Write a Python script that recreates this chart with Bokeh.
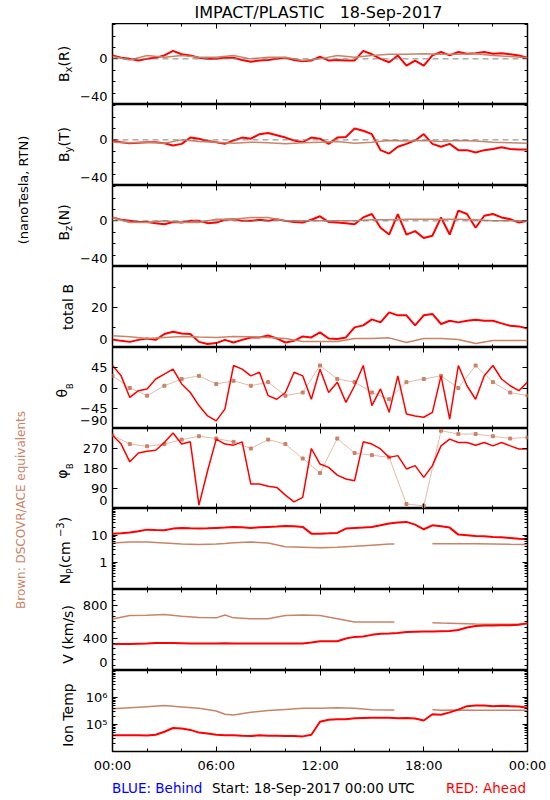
import math
import numpy as np
from bokeh.plotting import figure
from bokeh.layouts import row, column
from bokeh.models import Range1d, LinearAxis, LogAxis, LogScale, FixedTicker, Label, Span
from bokeh.embed import file_html
from bokeh.resources import INLINE

# ---------------------------------------------------------------- data
TITLE = "IMPACT/PLASTIC\u00a0\u00a0\u00a018-Sep-2017"
FOOT_LEFT = "BLUE: Behind"
FOOT_MID = "Start: 18-Sep-2017 00:00 UTC"
FOOT_RIGHT = "RED: Ahead"
SIDE_UNITS = "(nanoTesla, RTN)"
SIDE_BROWN = "Brown: DSCOVR/ACE equivalents"

# time (hours) of the STEREO-A (red) samples
T_RED = [0.0, 0.5, 1.0, 1.5, 2.0, 2.5, 3.0, 3.5, 4.0, 4.5, 5.0, 5.5, 6.0, 6.5, 7.0, 7.5,
         8.0, 8.5, 9.0, 9.5, 10.0, 10.5, 11.0, 11.5, 12.0, 12.5, 13.0, 13.5, 14.0, 14.5,
         15.0, 15.5, 16.0, 16.5, 17.0, 17.5, 18.0, 18.5, 19.0, 19.5, 20.0, 20.5, 21.0,
         21.5, 22.0, 22.5, 23.0, 23.5, 24.0]
# time (hours) of the DSCOVR/ACE (brown) magnetic samples
T_BROWN = [0, 1, 2, 3, 4, 5, 6, 7, 8, 9, 10, 11, 12, 13, 14, 15, 16, 17, 18, 19, 20, 21, 22, 23, 24]
# time (hours) of the DSCOVR/ACE (brown) plasma samples (gap 16.3 - 18.5)
T_BROWN_PL = [0, 1, 2, 3, 4, 5, 6, 6.5, 7, 8, 9, 10, 11, 12, 13, 14, 15, 16, 16.3, 17,
              18.5, 19, 20, 21, 22, 23, 24]

NAN = float("nan")

BX_RED = [3, 1, 0, -1.5, 0, 1, 3, 7, 4, 3, 1, 0, 0, 1, 1, -1, -2.5, -1.5, -1, 0,
          1, -1, -2, -1.5, 2, -1.5, -1, -1.5, -1.5, 7, 4, 0, -3, 3, -6, -1.5, -6, 3, 6, 3,
          6, 4.5, 5, 6, 4.5, 5, 4, 3, 1]
BX_BROWN = [2, -1, 3, 1.5, 3, 1.5, 1.5, 3, 0, 1.5, 1.5, -1.5, 0, 3, 1.5, 3, 4, 4, 4.5, 4,
            4, 4.5, 3, 2, 1]

BY_RED = [-0.5, -2, -3, -2.5, -2, -2, -3, -5, -3.5, 2, 1, -1, -2, -3.5, -0.5, 2, 1, 5, 6, 4,
          2, -0.5, -2, 2, 1, -3.5, 2, 2.5, 10, 8, 5, -9, -12, -6, -3.5, -0.5, 5, -3.5, -6, -3.5,
          -9, -9, -11, -9, -8, -6.5, -8, -8.5, -8.5]
BY_BROWN = [-2, -2.5, -2, -3, 0, -1.5, -2, -3, -2, -2.5, -3.5, -2.5, -2, -1.5, -3, -2, -0.5,
            -1, -0.5, -1.5, -0.5, -1, -2, -2.5, -3]

BZ_RED = [3, 1, 0, -1, -1, -2, -3, -1, -1.5, 0, 0, -2, -1.5, 1, 1.5, 0, 0, 1, 0, 1.5,
          0, -1, -1.5, 1, 4, -1, -1.5, -2, -3, 3, 6, -6, -12, 6, -12, -9, -15, -13, 3, -12,
          9, 6, -6, 4.5, 6, 3, 1.5, -1.5, 0]
BZ_BROWN = [3, -1.5, -1.5, 0, -1.5, -1.5, 1.5, 1.5, 3, 3, 0, 0, 0, 0, 0, 1, 1, 1.5, 1.5, 1.5,
            1.5, 1, 0, 0, 0]

BT_RED = [4, 3.3, 2.8, 3.8, 4.5, 3.8, 6.7, 7.8, 7, 6.7, 2.8, 1.7, 2.2, 3.8, 2.5, 3.8, 5, 5, 6, 4.5,
          2.5, 3.3, 5.5, 5, 7.5, 4.5, 4.2, 5, 10, 11, 14, 12.5, 17.5, 16, 16, 11, 16, 16.7, 11.7,
          13.3, 12.5, 13.3, 13.8, 13.3, 13.3, 12, 10.8, 10.5, 9.5]
BT_BROWN = [5.8, 5.3, 4.5, 5, 5.5, 5.2, 5, 5.5, 5.3, 5, 4.5, 3, 3, 3, 4.5, 4.5, 4.8, 2.5, 4.5,
            4.5, 4, 2, 3.5, 3.5, 3.5]

THETA_RED = [50, 27, -21, -6, -2, 20, 31, 42, 9, -10, -39, -62, -73, -47, 50, 42, 27, 35, -17, -25,
             -10, 35, 27, -25, 42, -10, 13, -32, 5, 50, -39, -2, -54, 27, -58, -62, -65, -54, 27,
             -69, 50, 5, -25, 27, 50, 20, 5, -6, 13]
THETA_BROWN = [27, 0, -17, 5, 20, 27, 9, 16, 5, 13, -17, -10, 50, 20, 13, -10, -25, 13, 20, 27,
               0, 50, 13, -10, -17]

PHI_RED = [330, 290, 210, 250, 258, 262, 297, 340, 290, 300, 15, 170, 312, 290, 285, 300, 110,
           110, 100, 95, 60, 30, 50, 270, 200, 185, 150, 133, 125, 300, 290, 268, 230, 238, 178,
           193, 140, 193, 282, 312, 297, 297, 285, 297, 282, 297, 282, 268, 268]
PHI_BROWN = [330, 290, 280, 290, 310, 325, 315, 300, 270, 310, 290, 225, 160, 315, 250, 240, 230,
             20, 12, 350, 335, 335, 325, 315, 320]

NP_RED = [11.7, 12.0, 12.8, 14.3, 16.5, 16.0, 15.6, 18.0, 19.1, 18.5, 18.0, 18.5, 19.1, 19.6,
          20.8, 20.2, 19.1, 20.2, 20.8, 21.4, 22.6, 22.0, 20.8, 11.7, 11.7, 12.0, 12.4, 18.0,
          19.1, 19.6, 20.8, 23.9, 27.6, 30.1, 31.9, 25.3, 17.0, 23.9, 22.0, 19.6, 10.8, 10.2,
          9.6, 9.3, 8.8, 8.6, 8.1, 7.6, 7.2]
NP_BROWN = [5.3, 5.75, 5.75, 5.3, 4.85, 4.6, 4.85, 5.1, 5.4, 5.75, 5.3, 3.8, 3.7, 3.5, 3.7, 4.0,
            4.4, 4.8, 4.85, NAN, 5.0, 5.0, 5.0, 5.0, 4.85, 4.7, 4.6]

V_RED = [328, 328, 328, 330, 332, 338, 340, 338, 336, 333, 333, 333, 333, 335, 333, 333, 333,
         333, 333, 333, 333, 333, 333, 345, 360, 360, 362, 395, 415, 420, 440, 455, 458, 462,
         475, 478, 480, 482, 485, 488, 500, 530, 550, 555, 555, 558, 560, 565, 585]
V_BROWN = [636, 678, 682, 690, 670, 655, 650, 686, 650, 640, 640, 680, 685, 680, 640, 600, 600,
           600, 600, NAN, 590, 585, 580, 575, 572, 572, 575]

TEMP_RED = [39800, 39800, 39800, 39800, 38900, 41700, 53700, 74100, 70800, 63100,
            50100, 46800, 41700, 39800, 39800, 38000, 37200, 39800, 38000, 38000,
            37200, 37200, 36300, 41700, 126000, 151000, 158000, 158000, 170000, 174000,
            178000, 178000, 178000, 170000, 174000, 166000, 141000, 240000, 229000, 282000,
            355000, 479000, 501000, 501000, 479000, 490000, 479000, 468000, 417000]
TEMP_BROWN = [380000, 417000, 457000, 501000, 447000, 398000, 316000, 240000, 224000, 282000,
              331000, 363000, 398000, 398000, 417000, 398000, 355000, 347000, 347000, NAN,
              355000, 339000, 347000, 339000, 339000, 339000, 339000]

# ticks and tick labels
X_TICKS = [0, 6, 12, 18, 24]
X_MINOR = [2, 4, 8, 10, 14, 16, 20, 22]
X_TICK_LABELS = ["00:00", "06:00", "12:00", "18:00", "00:00"]

B_TICKS = [0]
B_TICK_LABELS = ["0"]
B_MINOR = [-30, -20, -10, 10, 20, 30]
B_EDGE = "\u221240"

BT_TICKS = [20]
BT_TICK_LABELS = ["20"]
BT_MINOR = [10, 30]
BT_EDGE = "0"

TH_TICKS = [-45, 0, 45]
TH_TICK_LABELS = ["\u221245", "0", "45"]
TH_EDGE = "\u221290"

PH_TICKS = [90, 180, 270]
PH_TICK_LABELS = ["90", "180", "270"]
PH_EDGE = "0"

NP_TICKS = [1, 10]
NP_TICK_LABELS = ["1", "10"]
NP_MINOR = [0.2, 0.3, 0.4, 0.5, 0.6, 0.7, 0.8, 0.9, 2, 3, 4, 5, 6, 7, 8, 9,
            20, 30, 40, 50, 60, 70, 80, 90]

V_TICKS = [400, 800]
V_TICK_LABELS = ["400", "800"]
V_MINOR = [66.7, 133.3, 200, 266.7, 333.3, 466.7, 533.3, 600, 666.7, 733.3, 866.7, 933.3]
V_EDGE = "0"

T_TICKS = [1e5, 1e6]
T_TICK_LABELS = ["10\u2075", "10\u2076"]
T_MINOR = [2e4, 3e4, 4e4, 5e4, 6e4, 7e4, 8e4, 9e4, 2e5, 3e5, 4e5, 5e5, 6e5, 7e5, 8e5, 9e5,
           2e6, 3e6, 4e6, 5e6, 6e6, 7e6, 8e6, 9e6]

# ---------------------------------------------------------------- style / layout
FONT = "DejaVu Sans"
RED = "#ff0000"
BROWN = "#c98467"
BLUE = "#0000ff"

PAGE_W = 550
HEAD_H = 23
SIDE_W = 77
FRAME_L = 111.0
FRAME_W = 415
TOPS = [23, 104, 185, 266, 347, 428, 508, 589, 670]
HS = [81, 81, 81, 81, 81, 80, 81, 81, 81]
XLAB_H = 20
FOOT_H = 28
BODY_BOTTOM = TOPS[-1] + HS[-1] + XLAB_H          # page y where the panel block ends
BODY_H = BODY_BOTTOM - HEAD_H
RANGES = [(-40, 31, False), (-40, 31, False), (-40, 31, False), (0, 40.3, False),
          (-90, 90, False), (0, 360, False), (0.1, 100, True), (0, 1000, False),
          (1e4, 1e7, True)]
EDGE_LIFT = 8   # px: the bottom tick label sits just above the frame edge

W_EM = {"B": .686, "x": .592, "(": .390, ")": .390, "R": .695, "y": .592, "T": .611,
        "z": .525, "N": .748, "t": .392, "o": .612, "a": .613, "l": .278, " ": .318,
        "\u03b8": .602, "\u03c6": .75, "P": .603, "c": .550, "m": .974, "\u2212": .838,
        "3": .636, "V": .684, "k": .579, "/": .337, "s": .521, "I": .295, "n": .634,
        "e": .615, "p": .635}


def text_w(s, size):
    return sum(W_EM.get(c, 0.6) for c in s) * size


def yd(i, py):
    """data value of panel i found at page row py"""
    lo, hi, log = RANGES[i]
    f = (TOPS[i] + HS[i] - py) / HS[i]
    if log:
        return 10 ** (math.log10(lo) + f * (math.log10(hi) - math.log10(lo)))
    return lo + f * (hi - lo)


def tick_axis(cls, positions, length):
    """An axis that only draws inward tick marks (no labels, zero thickness)."""
    return cls(ticker=FixedTicker(ticks=[], minor_ticks=positions), axis_line_color=None,
               major_tick_in=0, major_tick_out=0, minor_tick_in=length, minor_tick_out=0,
               minor_tick_line_color="black", minor_tick_line_width=1)


def strip(w, h):
    f = figure(frame_width=w, frame_height=h, x_range=Range1d(0, w), y_range=Range1d(0, h),
               x_axis_location=None, y_axis_location=None, output_backend="svg",
               toolbar_location=None, min_border_left=0, min_border_right=0, min_border_top=0,
               min_border_bottom=0, outline_line_color=None, border_fill_color="white",
               background_fill_color="white")
    f.xgrid.visible = False
    f.ygrid.visible = False
    return f


def make_panel(i):
    lo, hi, log = RANGES[i]
    p = figure(frame_width=FRAME_W, frame_height=HS[i], x_range=Range1d(0, 24),
               y_range=Range1d(lo, hi), y_axis_type="log" if log else "linear",
               x_axis_location=None, y_axis_location=None,
               output_backend="svg", toolbar_location=None,
               min_border_left=int(FRAME_L) - SIDE_W,
               min_border_right=PAGE_W - int(FRAME_L) - FRAME_W,
               min_border_top=0, min_border_bottom=XLAB_H if i == 8 else 0,
               outline_line_color="black", outline_line_width=1.5,
               background_fill_color="white", border_fill_color="white")
    if log:
        p.y_scale = LogScale()
    p.xgrid.visible = False
    p.ygrid.visible = False
    for loc in ("above", "below"):
        p.add_layout(tick_axis(LinearAxis, X_MINOR, 3), loc)
        p.add_layout(tick_axis(LinearAxis, X_TICKS, 5), loc)
    if i == 8:
        ax = LinearAxis(ticker=FixedTicker(ticks=X_TICKS, minor_ticks=[]),
                        axis_line_color=None, major_tick_in=0, major_tick_out=0,
                        minor_tick_in=0, minor_tick_out=0)
        ax.major_label_overrides = {t: s for t, s in zip(X_TICKS, X_TICK_LABELS)}
        ax.major_label_text_font = FONT
        ax.major_label_text_font_size = "13px"
        ax.major_label_text_color = "black"
        ax.major_label_standoff = 6
        p.add_layout(ax, "below")
    return p


def add_y_axes(p, i, ticks, labels, minor, edge):
    lo, hi, log = RANGES[i]
    Ax = LogAxis if log else LinearAxis
    # tick marks (left and right, inward)
    for loc in ("left", "right"):
        p.add_layout(tick_axis(Ax, minor, 3), loc)
        p.add_layout(tick_axis(Ax, ticks, 5), loc)
    # labels; the label of the bottom tick sits just above the frame edge
    lab_pos = list(ticks)
    lab_txt = list(labels)
    if edge:
        lab_pos.append(yd(i, TOPS[i] + HS[i] - EDGE_LIFT))
        lab_txt.append(edge)
    ax = Ax(ticker=FixedTicker(ticks=lab_pos, minor_ticks=[]), axis_line_color=None,
            major_tick_in=0, major_tick_out=0, minor_tick_in=0, minor_tick_out=0)
    ax.major_label_overrides = {t: s for t, s in zip(lab_pos, lab_txt)}
    ax.major_label_text_font = FONT
    ax.major_label_text_font_size = "13px"
    ax.major_label_text_color = "black"
    ax.major_label_standoff = 5
    p.add_layout(ax, "left")


panels = [make_panel(i) for i in range(9)]

# --- B components
for i, (red, brown) in enumerate([(BX_RED, BX_BROWN), (BY_RED, BY_BROWN), (BZ_RED, BZ_BROWN)]):
    p = panels[i]
    add_y_axes(p, i, B_TICKS, B_TICK_LABELS, B_MINOR, B_EDGE)
    p.add_layout(Span(location=0, dimension="width", line_color="#808080", line_dash="6 4",
                      line_width=1))
    p.line(T_RED, red, line_color=RED, line_width=2)
    p.line(T_BROWN, brown, line_color=BROWN, line_width=1.5)

# --- total B
p = panels[3]
add_y_axes(p, 3, BT_TICKS, BT_TICK_LABELS, BT_MINOR, BT_EDGE)
p.line(T_RED, BT_RED, line_color=RED, line_width=2)
p.line(T_BROWN, BT_BROWN, line_color=BROWN, line_width=1.5)

# --- theta
p = panels[4]
add_y_axes(p, 4, TH_TICKS, TH_TICK_LABELS, [], TH_EDGE)
p.line(T_BROWN, THETA_BROWN, line_color=BROWN, line_width=0.8, line_alpha=0.7)
p.scatter(T_BROWN, THETA_BROWN, marker="square", size=3, color=BROWN)
p.line(T_RED, THETA_RED, line_color=RED, line_width=1.5)

# --- phi
p = panels[5]
add_y_axes(p, 5, PH_TICKS, PH_TICK_LABELS, [], PH_EDGE)
p.line(T_BROWN, PHI_BROWN, line_color=BROWN, line_width=0.8, line_alpha=0.7)
p.scatter(T_BROWN, PHI_BROWN, marker="square", size=3, color=BROWN)
p.line(T_RED, PHI_RED, line_color=RED, line_width=1.5)

# --- density
p = panels[6]
add_y_axes(p, 6, NP_TICKS, NP_TICK_LABELS, NP_MINOR, None)
p.line(T_BROWN_PL, np.array(NP_BROWN, dtype=float), line_color=BROWN, line_width=1.5)
p.line(T_RED, NP_RED, line_color=RED, line_width=2)

# --- speed
p = panels[7]
add_y_axes(p, 7, V_TICKS, V_TICK_LABELS, V_MINOR, V_EDGE)
p.line(T_BROWN_PL, np.array(V_BROWN, dtype=float), line_color=BROWN, line_width=1.5)
p.line(T_RED, V_RED, line_color=RED, line_width=2)

# --- temperature
p = panels[8]
add_y_axes(p, 8, T_TICKS, T_TICK_LABELS, T_MINOR, None)
p.line(T_BROWN_PL, np.array(TEMP_BROWN, dtype=float), line_color=BROWN, line_width=1.5)
p.line(T_RED, TEMP_RED, line_color=RED, line_width=2)

# ---------------------------------------------------------------- header strip (title)
head = strip(PAGE_W, HEAD_H)
head.add_layout(Label(x=318, y=HEAD_H - 11.5, text=TITLE, text_align="center",
                      text_baseline="middle", text_font=FONT, text_font_size="16px",
                      text_color="black"))

# ---------------------------------------------------------------- footer strip
foot = strip(PAGE_W, FOOT_H)
for txt, px, col, al in [(FOOT_LEFT, 111.5, BLUE, "left"), (FOOT_MID, 211.5, "black", "left"),
                         (FOOT_RIGHT, 525.5, RED, "right")]:
    foot.add_layout(Label(x=px, y=FOOT_H - (783 - BODY_BOTTOM), text=txt, text_align=al,
                          text_baseline="middle", text_font=FONT, text_font_size="13.5px",
                          text_color=col))

# ---------------------------------------------------------------- left strip (captions)
side = strip(SIDE_W, BODY_H)


def side_text(px, py, text, size, color="black"):
    side.add_layout(Label(x=px, y=BODY_BOTTOM - py, text=text, angle=math.pi / 2,
                          text_align="center", text_baseline="middle", text_font=FONT,
                          text_font_size="%spx" % size, text_color=color))


def side_label(base_x, cy, pieces):
    total = sum(text_w(t, s) for t, s, d in pieces)
    y = cy + total / 2.0
    for t, s, d in pieces:
        w = text_w(t, s)
        side_text(base_x + d - 0.36 * s, y - w / 2.0, t, s)
        y -= w


side_text(22.5, 189.5, SIDE_UNITS, 13)
side_text(20.5, 509.5, SIDE_BROWN, 12, BROWN)
side_label(68.5, 63.5, [("B", 14, 0), ("x", 10, 3.5), ("(R)", 14, 0)])
side_label(68.5, 144, [("B", 14, 0), ("y", 10, 3.5), ("(T)", 14, 0)])
side_label(68.5, 222, [("B", 14, 0), ("z", 10, 3.5), ("(N)", 14, 0)])
side_label(73, 306.5, [("total B", 14, 0)])
side_label(67, 390, [("\u03b8", 14, 0), ("B", 8, 6)])
side_label(67, 471, [("\u03c6", 14, 0), ("B", 8, 6)])
side_label(70, 550, [("N", 14, 0), ("P", 9, 3), (" (cm", 14, 0), ("\u22123", 10, -7),
                     (")", 14, 0)])
side_label(73, 634, [("V (km/s)", 14, 0)])
side_label(73, 714.5, [("Ion Temp", 14, 0)])

layout = column(head, row(side, column(*panels, spacing=0), spacing=0), foot, spacing=0)
open("out.html", "w").write(file_html(layout, INLINE))
